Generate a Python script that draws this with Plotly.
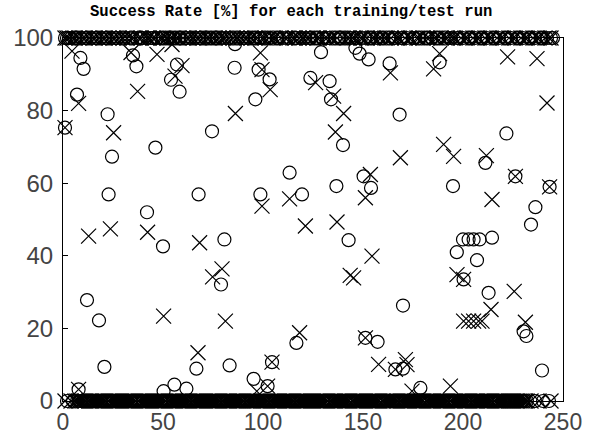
import plotly.graph_objects as go

# Scattered (non 0/100) success rates
circle_x = [8.7, 10.3, 35, 36.7, 57, 54, 58.3, 86, 85.8, 97.8, 103.3, 96.2, 7, 22.3, 1, 24.5, 46.2,
            74.5, 22.8, 67.8, 42, 98.7, 113.3, 119.5,
            50, 80.7, 79, 12, 18, 66.7, 83.3, 20.7, 104.5, 116.7, 95.3, 102.3, 50.3, 55.7, 61.7, 7.8,
            129, 146.2, 148.3, 152.8, 163.3, 188.3, 123.7, 133.3, 134, 140, 168.3, 221.7, 211.2,
            226.2, 243.3, 150.3, 154, 136.7, 195, 236.2, 234,
            142.8, 196.9, 200, 202.8, 205.3, 208.3, 214.5, 207, 200.3, 212.8, 170, 230.3, 231.7,
            151.2, 157.3, 166.2, 170, 239.5, 178.7]
circle_y = [94.5, 91.5, 95.2, 92.2, 92.7, 88.5, 85.2, 98.3, 91.8, 91.3, 88.6, 83.1, 84.4, 79, 75.3, 67.3, 69.8,
            74.3, 56.9, 56.9, 52, 56.9, 62.9, 56.9,
            42.6, 44.5, 32.1, 27.8, 22.2, 8.9, 9.8, 9.4, 10.7, 16, 6.1, 4.1, 2.7, 4.5, 3.4, 3.2,
            96.1, 97.3, 95.7, 94.1, 93, 93.3, 89, 88.1, 83.1, 70.5, 78.9, 73.7, 65.6,
            61.9, 59, 61.9, 58.7, 59.2, 59.2, 53.4, 48.6,
            44.3, 41, 44.5, 44.5, 44.5, 44.5, 45, 38.8, 33.5, 29.8, 26.3, 19.2, 17.9,
            17.4, 16.3, 8.7, 8.9, 8.4, 3.6]

cross_x = [4.5, 34, 47, 37.3, 54.5, 59.5, 56, 98.7, 99.5, 103.6, 86.2, 7.8, 25.3, 1, 99.5, 113.3,
           12.8, 23.7, 42.3, 68.3, 79.5, 74.8, 50.3, 81.2, 67.5, 104.5, 118.3, 102.3, 96.9, 7.8,
           163.7, 188.3, 185.3, 222.3, 237, 242, 126.3, 135.3, 140.3, 136.2, 168.7, 190.3, 195.3,
           211.7, 226.2, 243.3, 153.7, 151.2, 214.5, 137, 121.2,
           154.5, 143.6, 145.3, 197, 200.3, 225.6, 214, 200.3, 202.8, 205.3, 207.8, 209.5, 231.2,
           151.2, 157.8, 166.2, 171.2, 172, 174.5, 193.7]
cross_y = [96.4, 96, 95.5, 85.3, 98.2, 92.4, 89.5, 95.9, 91.3, 85.8, 79.2, 82, 73.9, 75.3, 53.7, 55.7,
           45.4, 47.4, 46.5, 43.6, 36.4, 34.2, 23.4, 22, 13.3, 10.7, 18.8, 4.1, 2.7, 3.2,
           90.4, 95.7, 91.5, 94.8, 94.3, 82.1, 87.7, 84, 79.2, 74.1, 67, 70.7, 67.4,
           67.6, 61.9, 59, 62.4, 56, 55.5, 49.3, 48.2,
           39.9, 34.6, 33.9, 34.8, 33.5, 30.2, 25.2, 22, 22, 22, 22, 22, 21.7,
           17.4, 10.1, 8.7, 11.4, 10, 2.7, 4.1]

# Runs that scored exactly 100 %
top_circle_x = [1, 2, 3, 4, 6, 7, 9, 11, 12, 14, 16, 17, 19, 21, 22, 24, 26, 27, 29, 31, 33, 35, 37,
                39, 40, 42, 44, 45, 47, 49, 50, 52, 53, 55, 56, 58, 59, 61, 62, 64, 66, 68, 69, 71,
                73, 74, 76, 77, 79, 81, 83, 84, 86, 88, 90, 91, 93, 95, 96, 98, 99, 101, 103, 104,
                107, 108, 110, 112, 113, 116, 117, 119, 121, 123, 124, 126, 127, 130, 132, 133, 136,
                138, 139, 141, 143, 144, 147, 149, 151, 153, 154, 157, 159, 160, 163, 165, 166, 169,
                170, 172, 175, 176, 178, 181, 182, 184, 187, 188, 190, 193, 194, 197, 198, 200, 203,
                204, 206, 209, 210, 212, 215, 216, 218, 221, 222, 224, 227, 228, 230, 233, 234, 236,
                239, 240, 242, 244, 245]
top_cross_x = [1, 2, 3, 5, 6, 8, 10, 11, 13, 15, 16, 18, 20, 21, 23, 25, 26, 28, 30, 32, 34, 35, 38,
               39, 42, 43, 45, 46, 49, 50, 52, 54, 55, 57, 58, 60, 62, 63, 65, 67, 68, 70, 72, 73,
               75, 76, 78, 80, 81, 83, 85, 87, 89, 91, 92, 94, 96, 97, 100, 101, 103, 105, 106, 109,
               111, 112, 115, 116, 118, 120, 122, 123, 125, 127, 128, 131, 132, 134, 135, 137, 140,
               142, 143, 145, 146, 149, 150, 152, 155, 156, 158, 159, 161, 162, 164, 167, 168, 171,
               173, 174, 177, 178, 180, 182, 183, 186, 187, 189, 191, 192, 195, 196, 199, 201, 202,
               205, 207, 208, 211, 213, 214, 217, 219, 220, 223, 225, 226, 229, 231, 232, 235, 237,
               238, 241, 243, 244]

# Runs that scored exactly 0 %
bottom_circle_x = [2, 5, 7, 8, 9, 10, 11, 12, 13, 14, 15, 16, 18, 19, 20, 21, 22, 23, 24, 25, 27, 28,
                   29, 30, 31, 32, 34, 35, 36, 37, 38, 39, 40, 42, 43, 44, 45, 46, 47, 49, 50, 51, 52,
                   53, 54, 55, 56, 57, 58, 60, 61, 62, 63, 64, 65, 66, 67, 68, 69, 70, 71, 73, 74, 75,
                   76, 77, 78, 79, 80, 81, 82, 83, 84, 85, 87, 88, 89, 90, 91, 92, 94, 95, 96, 97, 98,
                   99, 100, 101, 102, 103, 104, 105, 106, 107, 109, 110, 111, 112, 113, 114, 115, 116,
                   117, 118, 119, 120, 122, 123, 124, 125, 126, 127, 128, 130, 131, 132, 133, 134, 135,
                   136, 137, 139, 140, 141, 142, 143, 144, 145, 146, 148, 149, 150, 151, 152, 153, 154,
                   155, 156, 157, 158, 159, 160, 161, 163, 164, 165, 166, 167, 168, 169, 170, 171, 172,
                   173, 174, 176, 177, 178, 179, 180, 181, 182, 183, 185, 186, 187, 188, 189, 190, 191,
                   192, 193, 194, 195, 196, 198, 199, 200, 201, 202, 203, 204, 205, 207, 208, 209, 210,
                   211, 212, 213, 214, 215, 216, 217, 218, 220, 221, 222, 223, 224, 225, 226, 227, 229,
                   230, 231, 232, 236, 240, 243]
bottom_cross_x = [1, 4, 6, 7, 8, 9, 10, 11, 13, 14, 15, 16, 17, 18, 19, 20, 21, 23, 24, 25, 26, 27, 28,
                  29, 30, 31, 32, 33, 34, 35, 36, 38, 39, 40, 41, 42, 43, 44, 45, 46, 47, 48, 49, 50,
                  51, 53, 54, 55, 56, 57, 58, 59, 60, 61, 62, 63, 65, 66, 67, 68, 69, 70, 71, 72, 73,
                  74, 75, 76, 77, 78, 80, 81, 82, 83, 84, 85, 86, 87, 88, 89, 90, 92, 93, 94, 95, 96,
                  97, 98, 99, 100, 101, 102, 104, 105, 106, 107, 108, 109, 110, 111, 112, 113, 114,
                  115, 117, 118, 119, 120, 121, 122, 123, 124, 125, 126, 127, 128, 129, 130, 131, 132,
                  134, 135, 136, 137, 138, 139, 140, 141, 142, 143, 145, 146, 147, 148, 149, 150, 151,
                  152, 153, 154, 155, 156, 157, 158, 160, 161, 162, 163, 164, 165, 166, 167, 169, 170,
                  171, 172, 173, 174, 175, 176, 177, 178, 179, 180, 182, 183, 184, 185, 186, 187, 188,
                  189, 190, 191, 192, 194, 195, 196, 197, 198, 199, 200, 201, 202, 203, 205, 206, 207,
                  208, 209, 210, 211, 212, 213, 214, 216, 217, 218, 219, 220, 221, 222, 223, 224, 225,
                  226, 227, 228, 229, 230, 231, 232, 234, 238, 244]

x_ticks = [0, 50, 100, 150, 200, 250]
y_ticks = [0, 20, 40, 60, 80, 100]
title_text = "Success Rate [%] for each training/test run"

all_circle_x = circle_x + top_circle_x + bottom_circle_x
all_circle_y = circle_y + [100] * len(top_circle_x) + [0] * len(bottom_circle_x)
all_cross_x = cross_x + top_cross_x + bottom_cross_x
all_cross_y = cross_y + [100] * len(top_cross_x) + [0] * len(bottom_cross_x)

fig = go.Figure()
fig.add_trace(go.Scatter(
    x=all_circle_x, y=all_circle_y, mode="markers", cliponaxis=False, showlegend=False,
    marker=dict(symbol="circle-open", size=13, color="black",
                line=dict(width=1.2, color="black")),
))
fig.add_trace(go.Scatter(
    x=all_cross_x, y=all_cross_y, mode="markers", cliponaxis=False, showlegend=False,
    marker=dict(symbol="x-thin-open", size=15, color="black",
                line=dict(width=1.2, color="black")),
))

axis_common = dict(
    showline=True, mirror=True, linecolor="black", linewidth=1,
    ticks="inside", ticklen=5, tickcolor="black", tickwidth=1,
    showgrid=False, zeroline=False, automargin=False,
)
label_font = "Liberation Sans, Arial, sans-serif"
fig.update_xaxes(range=[0, 250], tickvals=x_ticks, ticktext=[str(v) for v in x_ticks],
                 ticklabelstandoff=0,
                 tickfont=dict(family=label_font, size=23, color="#444444"), **axis_common)
fig.update_yaxes(range=[0, 100], tickvals=y_ticks, ticktext=[str(v) for v in y_ticks],
                 ticklabelstandoff=4,
                 tickfont=dict(family=label_font, size=24, color="#444444"), **axis_common)

fig.update_layout(
    width=590, height=436,
    margin=dict(l=63, r=27, t=38, b=35),
    paper_bgcolor="white", plot_bgcolor="white",
    annotations=[dict(
        text="<b>" + title_text + "</b>", xref="paper", yref="paper",
        x=0.456, y=1 + 26 / 363, xanchor="center", yanchor="middle", showarrow=False,
        font=dict(family="Liberation Mono, Courier New, monospace", size=15.6, color="black"),
    )],
)

# remove the default 8 px page margin so the figure sits at the window's corner
fig.write_html("out.html", config={"displayModeBar": False},
               post_script="document.body.style.margin='0';")
